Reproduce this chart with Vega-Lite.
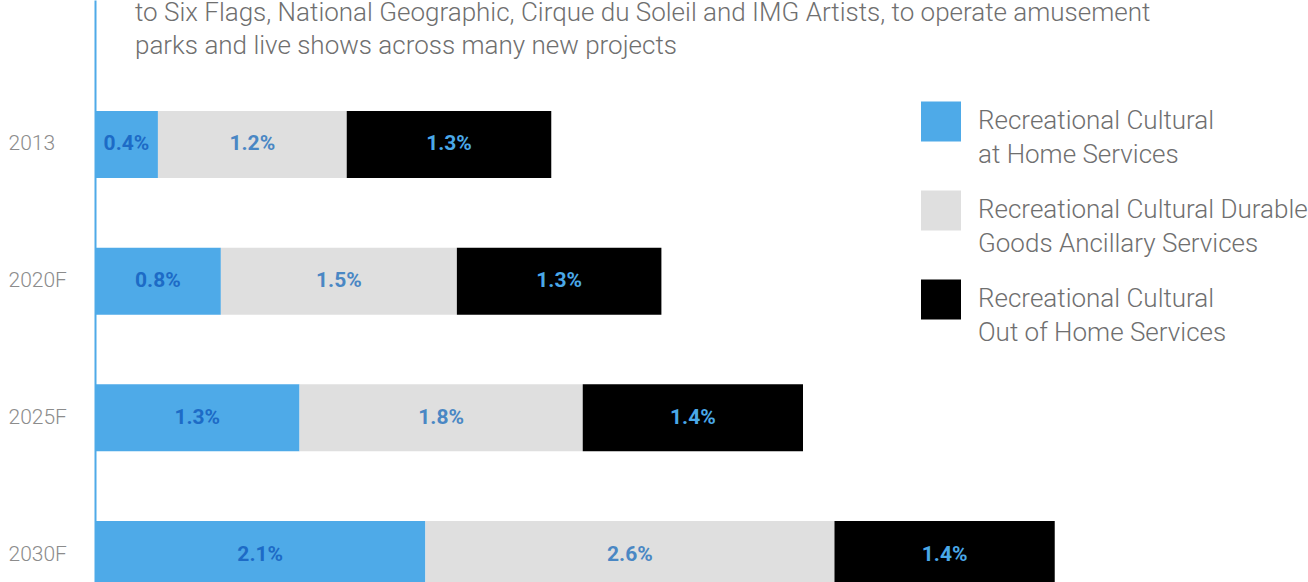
{
  "$schema": "https://vega.github.io/schema/vega-lite/v6.json",
  "width": 1180,
  "height": 699,
  "padding": {"left": 8, "top": 0, "right": 0, "bottom": 0},
  "background": "white",
  "config": {"view": {"stroke": null}, "font": "Roboto", "style": {"guide-label": {"lineHeight": 34}}},
  "title": {
    "text": ["to Six Flags, National Geographic, Cirque du Soleil and IMG Artists, to operate amusement", "parks and live shows across many new projects"],
    "anchor": "start",
    "frame": "group",
    "dx": 40,
    "offset": -85,
    "baseline": "bottom",
    "fontSize": 26,
    "lineHeight": 33,
    "font": "Roboto",
    "fontWeight": 300,
    "color": "#6f6f6f"
  },
  "data": {
    "values": [
      {"year": "2013", "category": "Recreational Cultural|at Home Services", "value": 0.004, "order": 1},
      {"year": "2013", "category": "Recreational Cultural Durable|Goods Ancillary Services", "value": 0.012, "order": 2},
      {"year": "2013", "category": "Recreational Cultural|Out of Home Services", "value": 0.013, "order": 3},
      {"year": "2020F", "category": "Recreational Cultural|at Home Services", "value": 0.008, "order": 1},
      {"year": "2020F", "category": "Recreational Cultural Durable|Goods Ancillary Services", "value": 0.015, "order": 2},
      {"year": "2020F", "category": "Recreational Cultural|Out of Home Services", "value": 0.013, "order": 3},
      {"year": "2025F", "category": "Recreational Cultural|at Home Services", "value": 0.013, "order": 1},
      {"year": "2025F", "category": "Recreational Cultural Durable|Goods Ancillary Services", "value": 0.018, "order": 2},
      {"year": "2025F", "category": "Recreational Cultural|Out of Home Services", "value": 0.014, "order": 3},
      {"year": "2030F", "category": "Recreational Cultural|at Home Services", "value": 0.021, "order": 1},
      {"year": "2030F", "category": "Recreational Cultural Durable|Goods Ancillary Services", "value": 0.026, "order": 2},
      {"year": "2030F", "category": "Recreational Cultural|Out of Home Services", "value": 0.014, "order": 3}
    ]
  },
  "transform": [
    {"stack": "value", "groupby": ["year"], "sort": [{"field": "order"}], "as": ["x0", "x1"]},
    {"calculate": "(datum.x0 + datum.x1) / 2", "as": "mid"}
  ],
  "encoding": {
    "y": {
      "field": "year",
      "type": "nominal",
      "sort": ["2013", "2020F", "2025F", "2030F"],
      "scale": {"paddingInner": 0.51, "paddingOuter": 0.812},
      "axis": {
        "title": null,
        "ticks": false,
        "labelAlign": "left",
        "labelPadding": 87,
        "labelFontSize": 21,
        "labelFont": "Roboto",
        "labelFontWeight": 300,
        "labelColor": "#8c8c8c",
        "domainColor": "#4eaae8",
        "domainWidth": 2,
        "domainCap": "butt",
        "grid": false
      }
    }
  },
  "layer": [
    {
      "mark": {"type": "bar", "cornerRadius": 0},
      "encoding": {
        "x": {"field": "x0", "type": "quantitative", "scale": {"domain": [0, 0.075], "nice": false, "zero": true}, "axis": null},
        "x2": {"field": "x1"},
        "color": {
          "field": "category",
          "type": "nominal",
          "sort": ["Recreational Cultural|at Home Services", "Recreational Cultural Durable|Goods Ancillary Services", "Recreational Cultural|Out of Home Services"],
          "scale": {"range": ["#4eaae8", "#dfdfdf", "#000000"]},
          "legend": {
            "title": null,
            "orient": "none",
            "legendX": 826,
            "legendY": 88,
            "padding": 0,
            "symbolType": "M-1,-0.325H1V1.675H-1Z",
            "symbolSize": 1600,
            "symbolStrokeWidth": 0,
            "symbolOpacity": 1,
            "labelOffset": 17,
            "labelFontSize": 26,
            "labelFont": "Roboto",
            "labelFontWeight": 300,
            "labelColor": "#6f6f6f",
            "labelBaseline": "top",
            "labelLimit": 500,
            "rowPadding": 9,
            "labelExpr": "split(datum.label, '|')"
          }
        }
      }
    },
    {
      "mark": {"type": "text", "font": "Roboto", "fontWeight": "bold", "fontSize": 21, "baseline": "middle", "align": "center"},
      "encoding": {
        "x": {"field": "mid", "type": "quantitative"},
        "text": {"field": "value", "type": "quantitative", "format": ".1%"},
        "color": {
          "field": "order",
          "type": "nominal",
          "scale": {"domain": [1, 2, 3], "range": ["#1d6bc6", "#4a87c4", "#4aa8e8"]},
          "legend": null
        }
      }
    }
  ],
  "resolve": {"scale": {"color": "independent"}}
}
